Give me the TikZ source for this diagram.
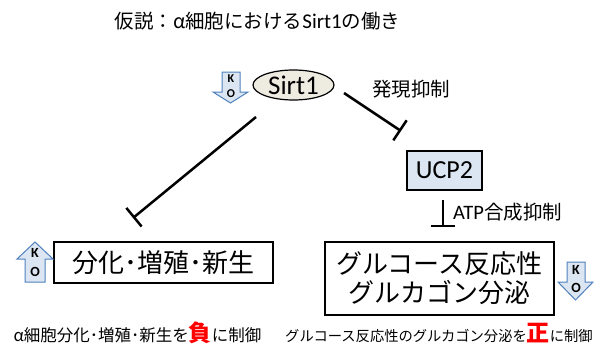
\documentclass[tikz,border=0pt]{standalone}
\usepackage{fontspec}
\setmainfont{Carlito}
\newfontfamily\jp{Noto Sans CJK JP}
\usetikzlibrary{arrows.meta,shapes.geometric}
\definecolor{sirtfill}{HTML}{EEECE1}
\definecolor{kofill}{HTML}{DCE6F2}
\definecolor{koline}{HTML}{4F81BD}
\tikzset{
  inhibit/.style={line width=2.5pt, -{Bar[width=24pt,line width=2.5pt]}},
  kobox/.style={draw=koline, fill=kofill, line width=1pt},
  koletter/.style={font=\bfseries\fontsize{14}{14}\selectfont, inner sep=0pt},
  label/.style={font=\jp\fontsize{19.5}{19.5}\selectfont, inner sep=0pt},
  bigbox/.style={draw, line width=1.6pt, align=center, font=\jp\fontsize{26}{29}\selectfont},
  note/.style={font=\jp\fontsize{16.5}{17}\selectfont, inner sep=0pt},
}
\begin{document}
\begin{tikzpicture}[x=1pt,y=-1pt]  % ------ Sirt1 dans les cellules alpha -------
  \useasboundingbox (0,0) rectangle (601,343);

  \node[font=\jp\fontsize{19.5}{19.5}\selectfont, inner sep=0pt] (titre) at (257.5,21) {仮説：α細胞における{\rmfamily\fontsize{21}{21}\selectfont Sirt1}の働き};

  \node[ellipse, draw, line width=1.2pt, fill=sirtfill, minimum width=81pt, minimum height=30pt,
        inner sep=0pt, font=\fontsize{27}{27}\selectfont] (sirt) at (293.5,85) {Sirt1};
  \node[draw, line width=1.6pt, fill=kofill, minimum width=75pt, minimum height=39pt,
        inner sep=0pt, font=\fontsize{26}{26}\selectfont] (ucp) at (444.5,170.5) {UCP2};
  \node[bigbox, minimum width=219pt, minimum height=41pt, inner sep=0pt] (diff) at (163.5,262.5) {分化･増殖･新生};
  \node[bigbox, minimum width=229pt, minimum height=73pt, inner sep=0pt] (gluc) at (439.5,278.5) {グルコース反応性\\グルカゴン分泌};

  % points libres des inhibitions
  \coordinate (s1) at (256,117);  \coordinate (t1) at (133,218);
  \coordinate (s2) at (344,93);   \coordinate (t2) at (401,131);
  \coordinate (s3) at (443,200);  \coordinate (t3) at (443,227);
  \draw[inhibit] (s1) -- (t1);
  \draw[inhibit] (s2) -- (t2);
  \draw[inhibit] (s3) -- (t3);

  \node[label] (expr) at (411,89) {発現抑制};
  \node[label, anchor=west] (atp) at (453,212) {{\rmfamily\fontsize{20.5}{20.5}\selectfont ATP}合成抑制};

  % fleches KO
  \draw[kobox] (222,72) -- (240,72) -- (240,92) -- (248,92) -- (230.5,103) -- (213,92) -- (222,92) -- cycle;
  \node[koletter, font=\bfseries\fontsize{12}{12}\selectfont] (k1) at (231,79) {K};
  \node[koletter, font=\bfseries\fontsize{12}{12}\selectfont] (o1) at (231,94) {O};
  \draw[kobox] (25,282) -- (45,282) -- (45,259) -- (53,259) -- (35,242) -- (17,259) -- (25,259) -- cycle;
  \node[koletter] (k2) at (35,253) {K};  \node[koletter] (o2) at (35,272) {O};
  \draw[kobox] (567,262) -- (585,262) -- (585,282) -- (593,282) -- (575.5,300) -- (558,282) -- (567,282) -- cycle;
  \node[koletter] (k3) at (576,270) {K};  \node[koletter] (o3) at (576,288) {O};

  \node[note] (neg) at (137.5,333) {α細胞分化･増殖･新生を{\color{red}\bfseries\fontsize{23}{23}\selectfont 負}に制御};
  \node[note, font=\jp\fontsize{14.3}{15}\selectfont] (pos) at (439,333) {グルコース反応性のグルカゴン分泌を{\color{red}\bfseries\fontsize{23}{23}\selectfont 正}に制御};
\end{tikzpicture}
\end{document}
